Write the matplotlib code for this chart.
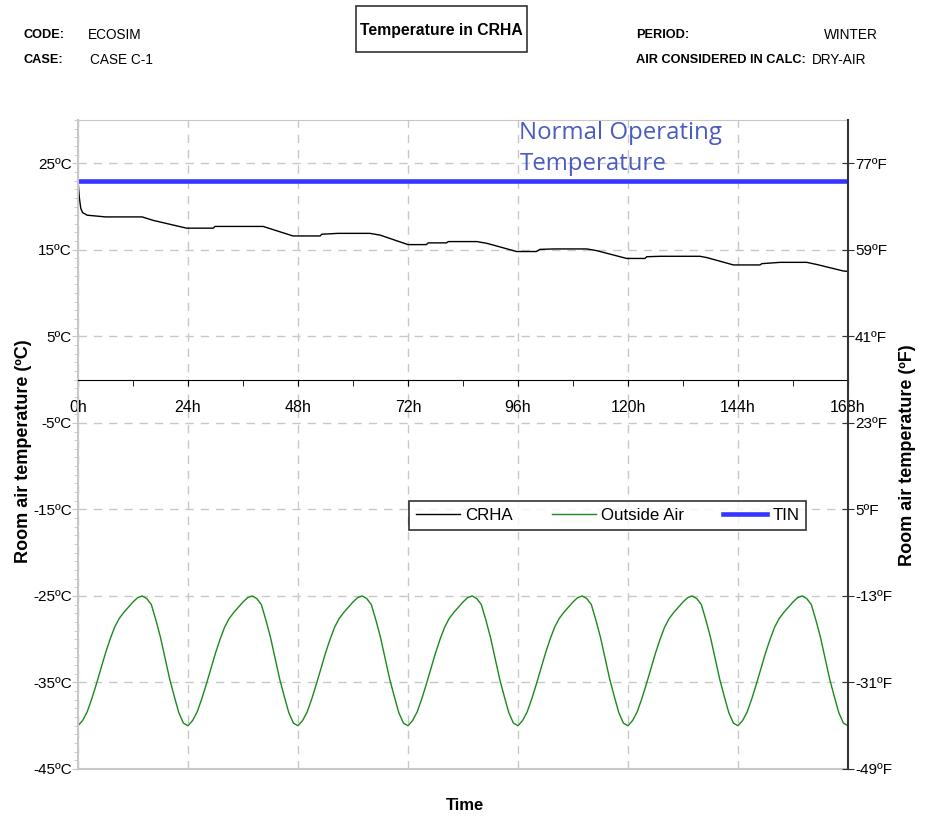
import numpy as np
import matplotlib
matplotlib.use("Agg")
import matplotlib.pyplot as plt
from matplotlib.patches import Rectangle
from matplotlib.ticker import FixedLocator, MultipleLocator

# CRHA room temperature, hours / degC
crha_hours = [0, 0.3, 0.6, 1.0, 2.0, 6.0, 14.0, 16.4, 23.7, 29.5, 29.9, 40.4, 46.9,
              52.8, 53.2, 56.7, 63.7, 65.9, 72.0, 76.0, 76.4, 80.4, 80.8, 87.0,
              89.2, 95.7, 100.0, 100.8, 104.0, 111.0, 113.2, 119.7, 123.7, 124.1,
              127.1, 135.7, 137.2, 143.0, 148.8, 149.2, 153.2, 159.0, 161.2, 167.0, 168.0]
crha_temp = [23.0, 21.0, 19.8, 19.3, 19.0, 18.8, 18.8, 18.4, 17.5, 17.5, 17.7, 17.7, 16.6,
             16.6, 16.8, 16.9, 16.9, 16.7, 15.6, 15.6, 15.8, 15.8, 15.95, 15.95,
             15.75, 14.8, 14.8, 15.05, 15.1, 15.1, 14.9, 14.0, 14.0, 14.2,
             14.25, 14.25, 14.1, 13.25, 13.25, 13.4, 13.55, 13.55, 13.3, 12.55, 12.5]

# Outside air, one day read hourly (the profile repeats every day)
outside_day = [-40.0, -39.4, -38.4, -36.9, -35.2, -33.4, -31.6, -30.0, -28.6, -27.6,
               -26.9, -26.3, -25.7, -25.2, -25.0, -25.3, -26.0, -27.8, -29.8, -32.2,
               -34.6, -36.6, -38.5, -39.7]
n_days = 7

tin_hours = [0, 168]
tin_temp = [22.9, 22.9]

c_ticks = [25, 15, 5, -5, -15, -25, -35, -45]
x_ticks = [0, 24, 48, 72, 96, 120, 144, 168]

outside_hours = np.arange(24 * n_days + 1)
outside_temp = np.append(np.tile(outside_day, n_days), outside_day[0])

plt.rcParams["font.family"] = ["Liberation Sans", "DejaVu Sans"]

fig = plt.figure(figsize=(9.31, 8.17), dpi=100)
ax = fig.add_axes([78 / 931, 1 - 769 / 817, 770 / 931, 649 / 817])

ax.plot(crha_hours, crha_temp, color="black", lw=1.0, label="CRHA")
ax.plot(outside_hours, outside_temp, color="#1a8a1a", lw=1.0, label="Outside Air")
ax.plot(tin_hours, tin_temp, color="#3535ff", lw=3.3, label="TIN")

ax.set_xlim(0, 168)
ax.set_ylim(-45, 30)

# axes look
ax.spines["bottom"].set_position(("data", 0))
ax.spines["bottom"].set_color("black")
ax.spines["left"].set_color("#c8c8c8")
ax.spines["left"].set_linewidth(1.5)
ax.spines["top"].set_color("#c8c8c8")
ax.spines["right"].set_visible(False)
ax.axhline(-45, color="#c8c8c8", lw=1.5, clip_on=False)

ax.xaxis.set_major_locator(FixedLocator(x_ticks))
ax.xaxis.set_minor_locator(MultipleLocator(12))
ax.set_xticklabels([f"{h}h" for h in x_ticks], fontsize=11.5)
ax.tick_params(axis="x", which="both", direction="out", length=4, color="black", pad=11)

ax.yaxis.set_major_locator(FixedLocator(c_ticks))
ax.yaxis.set_minor_locator(MultipleLocator(1))
ax.set_yticklabels([f"{c}\u00baC" for c in c_ticks], fontsize=11)
ax.tick_params(axis="y", which="major", direction="out", length=4, color="#c8c8c8", pad=0.5)
ax.tick_params(axis="y", which="minor", direction="out", length=3, color="#c8c8c8")

ax.grid(True, which="major", color="#c8c8c8", linestyle=(0, (6, 5)), lw=1.0)

# right axis in Fahrenheit
ax2 = ax.twinx()
ax2.set_ylim(-45 * 1.8 + 32, 30 * 1.8 + 32)
f_ticks = [round(c * 1.8 + 32) for c in c_ticks]
ax2.yaxis.set_major_locator(FixedLocator(f_ticks))
ax2.set_yticklabels([f"{f}\u00baF" for f in f_ticks], fontsize=11)
ax2.tick_params(axis="y", direction="inout", length=8, color="#333333", pad=1)
for s in ["top", "bottom", "left"]:
    ax2.spines[s].set_visible(False)
ax2.spines["right"].set_color("#333333")
ax2.spines["right"].set_linewidth(1.5)

bold = dict(fontweight="bold", fontsize=13)
fig.text(24 / 931, 1 - 451 / 817, "Room air temperature (\u00baC)", rotation=90,
         ha="center", va="center", **bold)
fig.text(908 / 931, 1 - 455 / 817, "Room air temperature (\u00baF)", rotation=90,
         ha="center", va="center", **bold)
fig.text(465 / 931, 1 - 805 / 817, "Time", ha="center", va="center",
         fontweight="bold", fontsize=12)

ax.text(96.3, 26.7, "Normal Operating\nTemperature", color="#4a5cc0", fontsize=17.3,
        family=["Open Sans", "DejaVu Sans"], ha="left", va="center", linespacing=1.38)

leg = ax.legend(loc="center", bbox_to_anchor=(0.688, 0.391), ncol=3, fontsize=12.2,
                frameon=True, fancybox=False, edgecolor="black", handlelength=2.6,
                handletextpad=0.3, columnspacing=2.3, borderpad=0.4)
leg.get_frame().set_linewidth(1.2)

# header
hb = dict(fontsize=9.2, fontweight="bold", va="center")
hn = dict(fontsize=9.8, va="center")
fig.text(24 / 931, 1 - 35 / 817, "CODE:", **hb)
fig.text(88 / 931, 1 - 35 / 817, "ECOSIM", **hn)
fig.text(24 / 931, 1 - 60 / 817, "CASE:", **hb)
fig.text(90 / 931, 1 - 60 / 817, "CASE C-1", **hn)
fig.text(636 / 931, 1 - 35 / 817, "PERIOD:", **hb)
fig.text(878 / 931, 1 - 35 / 817, "WINTER", ha="right", **hn)
fig.text(636 / 931, 1 - 60 / 817, "AIR CONSIDERED IN CALC:", **hb)
fig.text(866 / 931, 1 - 60 / 817, "DRY-AIR", ha="right", **hn)
fig.patches.append(Rectangle((356 / 931, 1 - 52 / 817), 171 / 931, 46 / 817,
                             transform=fig.transFigure, fc="white", ec="#333333", lw=1.2))
fig.text(441 / 931, 1 - 30 / 817, "Temperature in CRHA", ha="center", va="center",
         fontsize=11.3, fontweight="bold")

fig.savefig("out.png", dpi=100)
